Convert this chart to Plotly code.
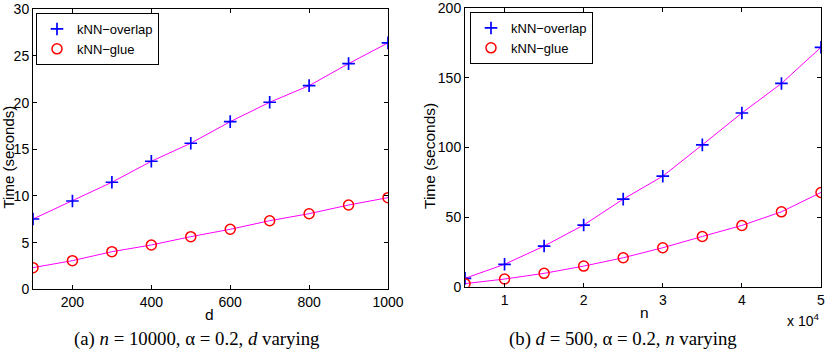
import plotly.graph_objects as go

W, H = 830, 350

# ---- data ----
d_vals = [100, 200, 300, 400, 500, 600, 700, 800, 900, 1000]
overlap_d = [7.53, 9.46, 11.47, 13.72, 15.65, 17.96, 20.04, 21.82, 24.18, 26.4]
glue_d = [2.32, 3.07, 4.03, 4.75, 5.64, 6.43, 7.35, 8.10, 9.03, 9.82]

n_vals = [5000, 10000, 15000, 20000, 25000, 30000, 35000, 40000, 45000, 50000]
overlap_n = [6.0, 16.1, 29.2, 44.3, 62.9, 79.4, 101.9, 124.8, 146.0, 172.0]
glue_n = [2.2, 5.5, 9.6, 14.8, 20.8, 28.0, 36.1, 44.0, 53.8, 67.7]

d_ticks = [200, 400, 600, 800, 1000]
n_ticks = [10000, 20000, 30000, 40000, 50000]
n_ticktext = ["1", "2", "3", "4", "5"]
time_ticks_a = [0, 5, 10, 15, 20, 25, 30]
time_ticks_b = [0, 50, 100, 150, 200]

series_names = ["kNN\u2212overlap", "kNN\u2212glue"]


def fx(x):
    return x / W


def fy(y):
    return 1 - y / H


FONT = "Liberation Sans, Arial, Helvetica, sans-serif"
SERIF = "Liberation Serif, Times New Roman, serif"
FS = 14
FT = 15.5
FL = 13
LINE_C = "#ff00ff"
BLUE = "#0000ff"
RED = "#ff0000"

fig = go.Figure()


def add_panel(xs, ys1, ys2, xa, ya, leg):
    for ys in (ys1, ys2):
        fig.add_trace(go.Scatter(x=xs, y=ys, mode="lines",
                                 line=dict(color=LINE_C, width=1),
                                 showlegend=False, xaxis=xa, yaxis=ya,
                                 hoverinfo="skip"))
    fig.add_trace(go.Scatter(x=xs, y=ys1, mode="markers", name=series_names[0],
                             marker=dict(symbol="cross-thin", size=9,
                                         line=dict(color=BLUE, width=1.7), color=BLUE),
                             xaxis=xa, yaxis=ya, legend=leg))
    fig.add_trace(go.Scatter(x=xs, y=ys2, mode="markers", name=series_names[1],
                             marker=dict(symbol="circle-open", size=10,
                                         line=dict(color=RED, width=1.5), color=RED),
                             xaxis=xa, yaxis=ya, legend=leg))


add_panel(d_vals, overlap_d, glue_d, "x", "y", "legend")
add_panel(n_vals, overlap_n, glue_n, "x2", "y2", "legend2")

axis_common = dict(showline=True, linecolor="black", linewidth=1, mirror="ticks",
                   ticks="inside", ticklen=4, tickcolor="black", tickwidth=1,
                   showgrid=False, zeroline=False, automargin=False,
                   tickfont=dict(family=FONT, size=FS, color="black"))

legend_common = dict(xanchor="left", yanchor="top",
                     bgcolor="white", bordercolor="black", borderwidth=1,
                     font=dict(family=FONT, size=FL, color="black"),
                     itemwidth=30, tracegroupgap=0)

fig.update_layout(
    width=W, height=H,
    margin=dict(l=0, r=0, t=0, b=0, pad=0),
    autosize=False,
    paper_bgcolor="white", plot_bgcolor="white",
    font=dict(family=FONT, size=FS, color="black"),
    xaxis=dict(domain=[fx(33), fx(388)], range=[100, 1000], tickvals=d_ticks,
               anchor="y", **axis_common),
    yaxis=dict(domain=[fy(289.3), fy(9.3)], range=[0, 30], tickvals=time_ticks_a,
               anchor="x", **axis_common),
    xaxis2=dict(domain=[fx(465), fx(821)], range=[5000, 50000], tickvals=n_ticks,
                ticktext=n_ticktext, anchor="y2", **axis_common),
    yaxis2=dict(domain=[fy(286.7), fy(8.3)], range=[0, 200], tickvals=time_ticks_b,
                anchor="x2", **axis_common),
    legend=dict(x=fx(36), y=fy(13), **legend_common),
    legend2=dict(x=fx(470), y=fy(12), **legend_common),
    showlegend=True,
)


def note(text, x, y, size=FT, family=FONT, **kw):
    d = dict(text=text, x=fx(x), y=fy(y), xref="paper", yref="paper",
             xanchor="center", yanchor="middle", showarrow=False,
             font=dict(family=family, size=size, color="black"))
    d.update(kw)
    return d


ann = [
    note("d", 210, 314),
    note("n", 644, 312),
    note("Time (seconds)", 7.5, 157, size=15, textangle=-90),
    note("Time (seconds)", 429, 156, textangle=-90),
    note("x 10<sup>4</sup>", 821, 320, size=FS, xanchor="right"),
    note("(a) <i>n</i> = 10000, \u03b1 = 0.2, <i>d</i> varying", 196.5, 338.5,
         size=18.8, family=SERIF),
    note("(b) <i>d</i> = 500, \u03b1 = 0.2, <i>n</i> varying", 622.5, 338.5,
         size=18.8, family=SERIF),
]
fig.update_layout(annotations=ann)

fig.write_html("out.html")
